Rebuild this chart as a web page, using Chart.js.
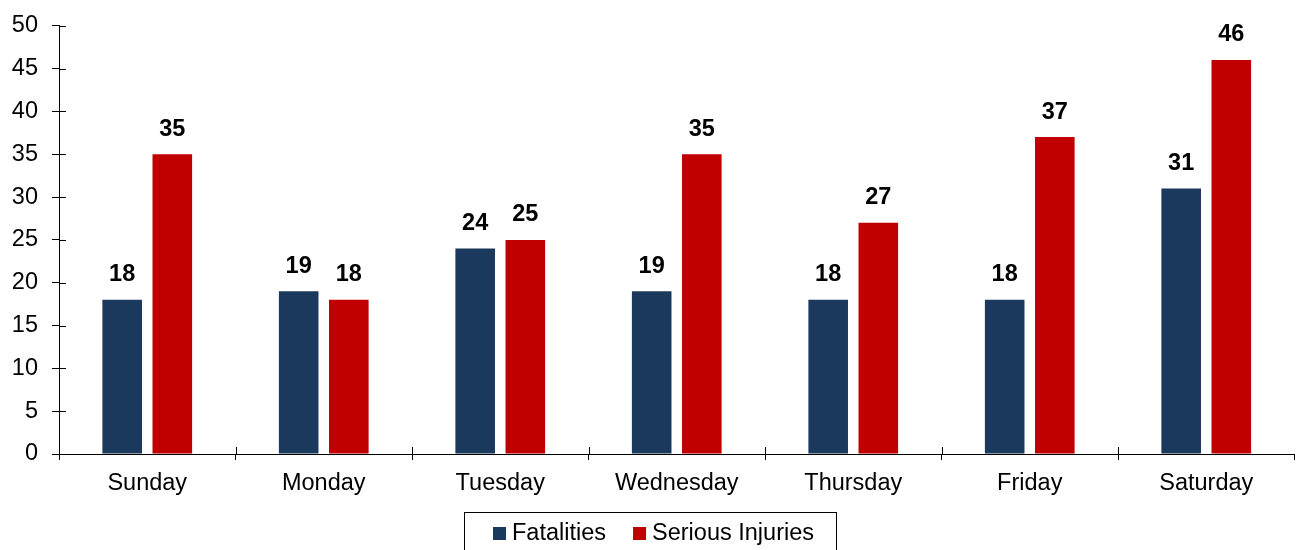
<!DOCTYPE html>
<html>
<head>
<meta charset="utf-8">
<script src="https://cdn.jsdelivr.net/npm/chart.js@4/dist/chart.umd.min.js"></script>
<style>
  html, body { margin: 0; padding: 0; background: #fff; }
  #wrap { width: 1296px; height: 550px; position: relative; }
</style>
</head>
<body>
<div id="wrap"><canvas id="chart"></canvas></div>
<script>
// day-of-week crash chart

const days        = ["Sunday", "Monday", "Tuesday", "Wednesday", "Thursday", "Friday", "Saturday"];
const fatalities  = [18, 19, 24, 19, 18, 18, 31];
const seriousInj  = [35, 18, 25, 35, 27, 37, 46];
const yTicks      = [0, 5, 10, 15, 20, 25, 30, 35, 40, 45, 50];

const NAVY = "#1b385d";
const RED  = "#c00000";
const FONT = "'Liberation Sans', Arial, sans-serif";
const FS   = 23.5;

// value labels above bars
const barLabels = {
  id: "barLabels",
  afterDatasetsDraw(chart) {
    const ctx = chart.ctx;
    ctx.save();
    ctx.font = "bold " + FS + "px " + FONT;
    ctx.fillStyle = "#000";
    ctx.textAlign = "center";
    ctx.textBaseline = "middle";
    chart.data.datasets.forEach((ds, i) => {
      chart.getDatasetMeta(i).data.forEach((bar, j) => {
        ctx.fillText(String(ds.data[j]), bar.x, bar.y - 25);
      });
    });
    ctx.restore();
  }
};

// inner half of the tick marks (they cross the axes in the original)
const crossTicks = {
  id: "crossTicks",
  afterDraw(chart) {
    const ctx = chart.ctx;
    const x = chart.scales.x, y = chart.scales.y;
    ctx.save();
    ctx.strokeStyle = "#000";
    ctx.lineWidth = 1;
    ctx.beginPath();
    yTicks.forEach(v => {
      const py = Math.round(y.getPixelForValue(v)) + 0.5;
      ctx.moveTo(x.left, py);
      ctx.lineTo(x.left + 7, py);
    });
    for (let i = 1; i < days.length; i++) {
      const px = Math.round((x.getPixelForValue(i - 1) + x.getPixelForValue(i)) / 2) + 0.5;
      ctx.moveTo(px, y.bottom);
      ctx.lineTo(px, y.bottom - 7);
    }
    ctx.stroke();
    ctx.restore();
  }
};

// boxed legend at the bottom
const boxLegend = {
  id: "boxLegend",
  afterDraw(chart) {
    const ctx = chart.ctx;
    ctx.save();
    ctx.font = FS + "px " + FONT;
    ctx.textBaseline = "middle";
    ctx.strokeStyle = "#000";
    ctx.lineWidth = 1;
    ctx.strokeRect(464.5, 512.5, 372, 60);
    let px = 493;
    const cy = 533;
    chart.data.datasets.forEach(ds => {
      ctx.fillStyle = ds.backgroundColor;
      ctx.fillRect(px, cy - 6, 13, 13);
      ctx.fillStyle = "#000";
      ctx.textAlign = "left";
      ctx.fillText(ds.label, px + 19, cy + 1);
      px += 19 + ctx.measureText(ds.label).width + 27;
    });
    ctx.restore();
  }
};

new Chart(document.getElementById("chart"), {
  type: "bar",
  data: {
    labels: days,
    datasets: [
      { label: "Fatalities",       data: fatalities, backgroundColor: NAVY },
      { label: "Serious Injuries", data: seriousInj, backgroundColor: RED }
    ]
  },
  options: {
    responsive: true,
    maintainAspectRatio: false,
    animation: false,
    devicePixelRatio: 1,
    categoryPercentage: 0.568,
    barPercentage: 0.79,
    layout: { padding: { top: 25, right: 1.5, left: 0, bottom: 0 } },
    plugins: {
      legend: { display: false },
      tooltip: { enabled: false }
    },
    scales: {
      x: {
        afterFit: s => { s.height = 96; },
        grid: {
          offset: true,
          drawOnChartArea: false,
          tickLength: 6,
          color: "#000"
        },
        border: { color: "#000", width: 1 },
        ticks: { color: "#000", font: { size: FS, family: FONT }, padding: 9 }
      },
      y: {
        min: 0,
        max: 50,
        afterFit: s => { s.width = 59; },
        grid: { drawOnChartArea: false, tickLength: 7, color: "#000" },
        border: { color: "#000", width: 1 },
        ticks: {
          stepSize: 5,
          color: "#000",
          font: { size: FS, family: FONT, lineHeight: 1 },
          padding: 14
        }
      }
    }
  },
  plugins: [barLabels, crossTicks, boxLegend]
});
</script>
</body>
</html>
